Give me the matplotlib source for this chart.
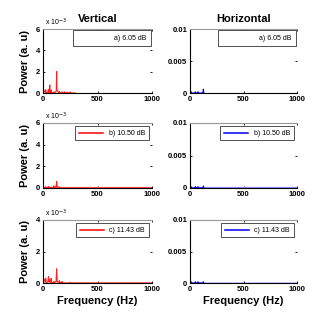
import matplotlib
matplotlib.use("Agg")
import matplotlib.pyplot as plt
from matplotlib.lines import Line2D

plt.rcParams['font.family'] = ['Liberation Sans', 'DejaVu Sans']

# Spectra (frequency in Hz, power in a.u.)
v1_f = [0, 5, 10, 20, 25, 30, 45, 50, 55, 58, 62, 65, 72, 75, 78, 95, 100, 105, 118, 122, 125, 128, 132, 145, 150, 155, 170, 175, 180, 195, 200, 205, 220, 225, 230, 245, 250, 255, 300]
v1_p = [0.3e-3, 0.35e-3, 0.2e-3, 0.05e-3, 0.3e-3, 0.05e-3, 0.02e-3, 0.35e-3, 0.05e-3, 0.2e-3, 0.75e-3, 0.05e-3, 0.05e-3, 0.3e-3, 0.05e-3, 0.02e-3, 0.12e-3, 0.02e-3, 0.1e-3, 0.3e-3, 2.0e-3, 0.3e-3, 0.2e-3, 0.02e-3, 0.15e-3, 0.02e-3, 0.02e-3, 0.12e-3, 0.02e-3, 0.02e-3, 0.12e-3, 0.02e-3, 0.02e-3, 0.08e-3, 0.02e-3, 0.02e-3, 0.1e-3, 0.0, 0.0]

v2_f = [0, 20, 25, 30, 45, 50, 55, 70, 75, 80, 95, 100, 105, 120, 125, 130, 145, 150, 155, 1000]
v2_p = [0.05e-3, 0.02e-3, 0.12e-3, 0.02e-3, 0.02e-3, 0.15e-3, 0.02e-3, 0.02e-3, 0.1e-3, 0.02e-3, 0.05e-3, 0.2e-3, 0.05e-3, 0.1e-3, 0.6e-3, 0.1e-3, 0.02e-3, 0.12e-3, 0.0, 0.0]

v3_f = [0, 10, 20, 25, 30, 45, 50, 55, 60, 65, 72, 75, 78, 95, 100, 105, 120, 125, 130, 145, 150, 155, 170, 175, 180, 245, 250, 255, 1000]
v3_p = [0.15e-3, 0.25e-3, 0.05e-3, 0.3e-3, 0.05e-3, 0.05e-3, 0.4e-3, 0.1e-3, 0.2e-3, 0.05e-3, 0.05e-3, 0.3e-3, 0.05e-3, 0.02e-3, 0.1e-3, 0.02e-3, 0.1e-3, 0.9e-3, 0.1e-3, 0.02e-3, 0.15e-3, 0.02e-3, 0.02e-3, 0.1e-3, 0.0, 0.0, 0.05e-3, 0.0, 0.0]

h_f = [0, 5, 10, 15, 45, 50, 55, 70, 75, 80, 120, 125, 130]
h1_p = [0.0002, 0.0003, 0.0002, 0.0, 0.0, 0.0002, 0.0, 0.0, 0.0002, 0.0, 0.0, 0.0006, 0.0]
h2_p = [0.0002, 0.0003, 0.0002, 0.0, 0.0, 0.0002, 0.0, 0.0, 0.0002, 0.0, 0.0, 0.0003, 0.0]
h3_p = [0.0002, 0.0003, 0.0002, 0.0, 0.0, 0.0002, 0.0, 0.0, 0.0002, 0.0, 0.0, 0.0002, 0.0]

labels = ["a) 6.05 dB", "b) 10.50 dB", "c) 11.43 dB"]
v_ylims = [6e-3, 6e-3, 4e-3]
v_yticks = [[0, 2e-3, 4e-3, 6e-3], [0, 2e-3, 4e-3, 6e-3], [0, 2e-3, 4e-3]]
v_yticklabels = [["0", "2", "4", "6"], ["0", "2", "4", "6"], ["0", "2", "4"]]
h_yticks = [0, 0.005, 0.01]
h_yticklabels = ["0", "0.005", "0.01"]
x_ticks = [0, 500, 1000]

W, H = 332, 319
fig = plt.figure(figsize=(W / 100, H / 100), dpi=100)

rows = [(29, 93), (123, 188), (220, 283)]
lx0, lx1 = 43, 152
rx0, rx1 = 190, 297

def mkax(x0, x1, y0, y1):
    return fig.add_axes([x0 / W, 1 - y1 / H, (x1 - x0) / W, (y1 - y0) / H])

v_data = [(v1_f, v1_p), (v2_f, v2_p), (v3_f, v3_p)]
h_data = [(h_f, h1_p), (h_f, h2_p), (h_f, h3_p)]
v_zero = [None, "#ff8080", "#ff0000"]
h_zero = [None, "#9090ff", "#0000ff"]
legend_line_v = [None, "#ff0000", "#ff0000"]
legend_line_h = [None, "#0000ff", "#0000ff"]

def style(ax):
    ax.spines["top"].set_color("#999999")
    ax.spines["right"].set_visible(False)
    for s in ["left", "bottom", "top"]:
        ax.spines[s].set_linewidth(0.8)
    ax.tick_params(direction="in", length=1.5, width=0.6, labelsize=5.5, pad=2,
                   top=True, right=True)
    for t in ax.get_yticklabels():
        t.set_fontweight("bold")
    ax.set_xlim(0, 1000)
    ax.set_xticks(x_ticks)
    ax.set_xticklabels([str(v) for v in x_ticks], fontsize=5.5, fontweight="bold")

def add_legend(ax, i, color):
    if color is None:
        h = Line2D([], [], color="none")
        leg = ax.legend([h], [labels[i]], loc="upper right", fontsize=5,
                        handlelength=4.5, borderpad=0.6, fancybox=False,
                        framealpha=1, edgecolor="#333333", borderaxespad=0.2)
    else:
        h = Line2D([], [], color=color, lw=1.1)
        leg = ax.legend([h], [labels[i]], loc="upper right", fontsize=5,
                        handlelength=3.5, borderpad=0.5, fancybox=False,
                        framealpha=1, edgecolor="#333333", borderaxespad=0.5)
    leg.get_frame().set_linewidth(0.6)

for i, (y0, y1) in enumerate(rows):
    # Vertical
    ax = mkax(lx0, lx1, y0, y1)
    f, p = v_data[i]
    if v_zero[i]:
        ax.plot([0, 1000], [0, 0], color=v_zero[i], lw=1.0 if i == 2 else 1.6)
    ax.plot(f, p, color="#ff2020", lw=0.8)
    ax.set_ylim(0, v_ylims[i])
    ax.set_yticks(v_yticks[i])
    ax.set_yticklabels(v_yticklabels[i], fontsize=5.5, fontweight="bold")
    style(ax)
    ax.text(0.02, 1.02, r"x 10$^{-3}$", transform=ax.transAxes, fontsize=5,
            ha="left", va="bottom")
    ax.set_ylabel("Power (a. u)", fontsize=8, fontweight="bold", labelpad=4)
    add_legend(ax, i, legend_line_v[i])
    if i == 0:
        ax.set_title("Vertical", fontsize=8, fontweight="bold", pad=5)
    if i == 2:
        ax.set_xlabel("Frequency (Hz)", fontsize=8, fontweight="bold", labelpad=2)

    # Horizontal
    ax = mkax(rx0, rx1, y0, y1)
    f, p = h_data[i]
    if h_zero[i]:
        ax.plot([0, 1000], [0, 0], color=h_zero[i], lw=1.0 if i == 2 else 1.6)
    ax.plot(f, p, color="#0000ff", lw=0.8)
    ax.set_ylim(0, 0.01)
    ax.set_yticks(h_yticks)
    ax.set_yticklabels(h_yticklabels, fontsize=5.5, fontweight="bold")
    style(ax)
    add_legend(ax, i, legend_line_h[i])
    if i == 0:
        ax.set_title("Horizontal", fontsize=8, fontweight="bold", pad=5)
    if i == 2:
        ax.set_xlabel("Frequency (Hz)", fontsize=8, fontweight="bold", labelpad=2)

fig.savefig("out.png", dpi=100)
